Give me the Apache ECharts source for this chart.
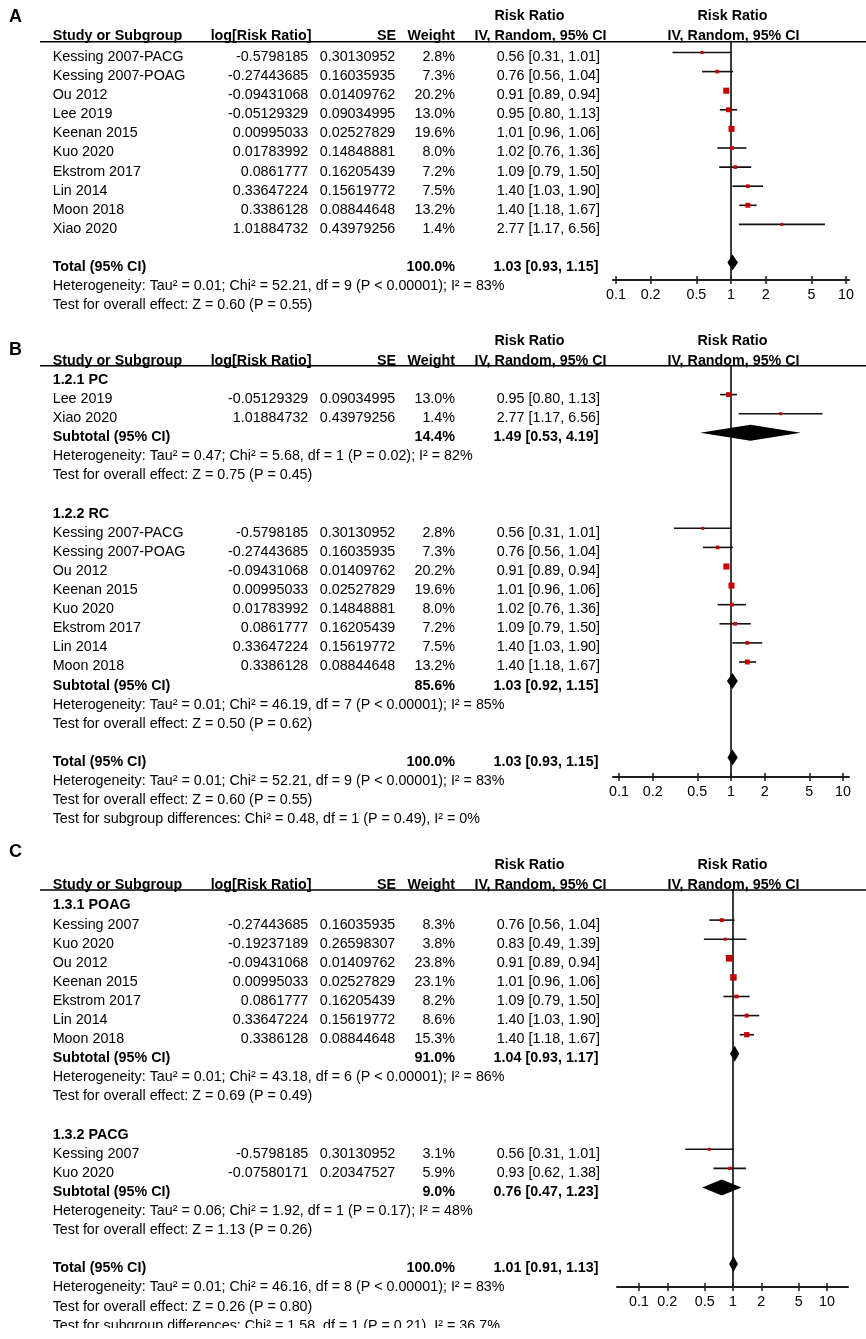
<!DOCTYPE html>
<html><head><meta charset="utf-8">
<script src="https://cdn.jsdelivr.net/npm/echarts@6/dist/echarts.min.js"></script>
<style>html,body{margin:0;padding:0;background:#fff}#c{width:866px;height:1339px}</style>
</head><body><div id="c"></div>
<script>
// ================= DATA =================
const tickValues = [0.1, 0.2, 0.5, 1, 2, 5, 10];

// ---- Panel A ----
const A_names  = ['Kessing 2007-PACG','Kessing 2007-POAG','Ou 2012','Lee 2019','Keenan 2015','Kuo 2020','Ekstrom 2017','Lin 2014','Moon 2018','Xiao 2020'];
const A_logRR  = [-0.5798185,-0.27443685,-0.09431068,-0.05129329,0.00995033,0.01783992,0.0861777,0.33647224,0.3386128,1.01884732];
const A_se     = [0.30130952,0.16035935,0.01409762,0.09034995,0.02527829,0.14848881,0.16205439,0.15619772,0.08844648,0.43979256];
const A_weight = [2.8,7.3,20.2,13.0,19.6,8.0,7.2,7.5,13.2,1.4];
const A_rr     = [0.56,0.76,0.91,0.95,1.01,1.02,1.09,1.40,1.40,2.77];
const A_lo     = [0.31,0.56,0.89,0.80,0.96,0.76,0.79,1.03,1.18,1.17];
const A_hi     = [1.01,1.04,0.94,1.13,1.06,1.36,1.50,1.90,1.67,6.56];
const A_total  = [100.0, 1.03, 0.93, 1.15];
const A_notes  = ['Heterogeneity: Tau² = 0.01; Chi² = 52.21, df = 9 (P < 0.00001); I² = 83%',
                  'Test for overall effect: Z = 0.60 (P = 0.55)'];

// ---- Panel B ----
const B1_label  = '1.2.1 PC';
const B1_names  = ['Lee 2019','Xiao 2020'];
const B1_logRR  = [-0.05129329,1.01884732];
const B1_se     = [0.09034995,0.43979256];
const B1_weight = [13.0,1.4];
const B1_rr     = [0.95,2.77];
const B1_lo     = [0.80,1.17];
const B1_hi     = [1.13,6.56];
const B1_sub    = [14.4,1.49,0.53,4.19];
const B1_notes  = ['Heterogeneity: Tau² = 0.47; Chi² = 5.68, df = 1 (P = 0.02); I² = 82%',
                   'Test for overall effect: Z = 0.75 (P = 0.45)'];
const B2_label  = '1.2.2 RC';
const B2_names  = ['Kessing 2007-PACG','Kessing 2007-POAG','Ou 2012','Keenan 2015','Kuo 2020','Ekstrom 2017','Lin 2014','Moon 2018'];
const B2_logRR  = [-0.5798185,-0.27443685,-0.09431068,0.00995033,0.01783992,0.0861777,0.33647224,0.3386128];
const B2_se     = [0.30130952,0.16035935,0.01409762,0.02527829,0.14848881,0.16205439,0.15619772,0.08844648];
const B2_weight = [2.8,7.3,20.2,19.6,8.0,7.2,7.5,13.2];
const B2_rr     = [0.56,0.76,0.91,1.01,1.02,1.09,1.40,1.40];
const B2_lo     = [0.31,0.56,0.89,0.96,0.76,0.79,1.03,1.18];
const B2_hi     = [1.01,1.04,0.94,1.06,1.36,1.50,1.90,1.67];
const B2_sub    = [85.6,1.03,0.92,1.15];
const B2_notes  = ['Heterogeneity: Tau² = 0.01; Chi² = 46.19, df = 7 (P < 0.00001); I² = 85%',
                   'Test for overall effect: Z = 0.50 (P = 0.62)'];
const B_total   = [100.0,1.03,0.93,1.15];
const B_notes   = ['Heterogeneity: Tau² = 0.01; Chi² = 52.21, df = 9 (P < 0.00001); I² = 83%',
                   'Test for overall effect: Z = 0.60 (P = 0.55)',
                   'Test for subgroup differences: Chi² = 0.48, df = 1 (P = 0.49), I² = 0%'];

// ---- Panel C ----
const C1_label  = '1.3.1 POAG';
const C1_names  = ['Kessing 2007','Kuo 2020','Ou 2012','Keenan 2015','Ekstrom 2017','Lin 2014','Moon 2018'];
const C1_logRR  = [-0.27443685,-0.19237189,-0.09431068,0.00995033,0.0861777,0.33647224,0.3386128];
const C1_se     = [0.16035935,0.26598307,0.01409762,0.02527829,0.16205439,0.15619772,0.08844648];
const C1_weight = [8.3,3.8,23.8,23.1,8.2,8.6,15.3];
const C1_rr     = [0.76,0.83,0.91,1.01,1.09,1.40,1.40];
const C1_lo     = [0.56,0.49,0.89,0.96,0.79,1.03,1.18];
const C1_hi     = [1.04,1.39,0.94,1.06,1.50,1.90,1.67];
const C1_sub    = [91.0,1.04,0.93,1.17];
const C1_notes  = ['Heterogeneity: Tau² = 0.01; Chi² = 43.18, df = 6 (P < 0.00001); I² = 86%',
                   'Test for overall effect: Z = 0.69 (P = 0.49)'];
const C2_label  = '1.3.2 PACG';
const C2_names  = ['Kessing 2007','Kuo 2020'];
const C2_logRR  = [-0.5798185,-0.07580171];
const C2_se     = [0.30130952,0.20347527];
const C2_weight = [3.1,5.9];
const C2_rr     = [0.56,0.93];
const C2_lo     = [0.31,0.62];
const C2_hi     = [1.01,1.38];
const C2_sub    = [9.0,0.76,0.47,1.23];
const C2_notes  = ['Heterogeneity: Tau² = 0.06; Chi² = 1.92, df = 1 (P = 0.17); I² = 48%',
                   'Test for overall effect: Z = 1.13 (P = 0.26)'];
const C_total   = [100.0,1.01,0.91,1.13];
const C_notes   = ['Heterogeneity: Tau² = 0.01; Chi² = 46.16, df = 8 (P < 0.00001); I² = 83%',
                   'Test for overall effect: Z = 0.26 (P = 0.80)',
                   'Test for subgroup differences: Chi² = 1.58, df = 1 (P = 0.21), I² = 36.7%'];

// ================= BUILD ROWS =================
function group(label, names, logRR, se, w, rr, lo, hi, sub, notes) {
  return {label, names, logRR, se, w, rr, lo, hi, sub, notes};
}
function buildRows(groups, total, notes) {
  const rows = [];
  groups.forEach(g => {
    if (g.label) rows.push({kind:'group', text:g.label});
    g.names.forEach((n, i) => rows.push({kind:'study', name:n, logRR:g.logRR[i], se:g.se[i], w:g.w[i], rr:g.rr[i], lo:g.lo[i], hi:g.hi[i]}));
    if (g.sub) {
      rows.push({kind:'sum', name:'Subtotal (95% CI)', w:g.sub[0], rr:g.sub[1], lo:g.sub[2], hi:g.sub[3]});
      g.notes.forEach(t => rows.push({kind:'note', text:t}));
    }
    rows.push({kind:'blank'});
  });
  rows.push({kind:'sum', name:'Total (95% CI)', w:total[0], rr:total[1], lo:total[2], hi:total[3]});
  notes.forEach(t => rows.push({kind:'note', text:t}));
  return rows;
}
const panels = [
  buildRows([group(null, A_names, A_logRR, A_se, A_weight, A_rr, A_lo, A_hi, null, null)], A_total, A_notes),
  buildRows([group(B1_label, B1_names, B1_logRR, B1_se, B1_weight, B1_rr, B1_lo, B1_hi, B1_sub, B1_notes),
             group(B2_label, B2_names, B2_logRR, B2_se, B2_weight, B2_rr, B2_lo, B2_hi, B2_sub, B2_notes)], B_total, B_notes),
  buildRows([group(C1_label, C1_names, C1_logRR, C1_se, C1_weight, C1_rr, C1_lo, C1_hi, C1_sub, C1_notes),
             group(C2_label, C2_names, C2_logRR, C2_se, C2_weight, C2_rr, C2_lo, C2_hi, C2_sub, C2_notes)], C_total, C_notes)
];

// ================= LAYOUT =================
const layouts = [
  {letter:'A', letterY:17,    hdr1Y:16.5,  hdr2Y:36.5,  lineY:41.7,  row0Y:57,    axisY:280,  oneX:731, ppd:115, axL:613, axR:849, clip:null},
  {letter:'B', letterY:350.5, hdr1Y:341.5, hdr2Y:361,   lineY:365.7, row0Y:380,   axisY:777,  oneX:731, ppd:112, axL:613, axR:849, clip:[826, 838]},
  {letter:'C', letterY:852,   hdr1Y:865,   hdr2Y:885,   lineY:890,   row0Y:905.5, axisY:1287, oneX:733, ppd:94,  axL:617, axR:848, clip:[1328, 1339]}
];
const rowH = 19.1, markOff = -4.5;
const FONT = '"Liberation Sans", Arial, Helvetica, sans-serif';
const FS = 14.3;
const X = {name:52.7, logRR:308.3, se:395.3, w:455, ci:600, ciB:598.5,
           hLog:311.5, hSE:396, hW:455, hCI:540.5, hRR:529.5, fRR:732.5, fCI:733.5};

function txt(text, x, y, align, bold, size) {
  return {type:'text', x:x, y:y, z:10, silent:true,
    style:{text:text, textAlign:align, textVerticalAlign:'middle', fill:'#000',
           fontFamily:FONT, fontSize:size||FS, fontWeight:bold?'bold':'normal'}};
}
const L = v => Math.log10(v);
const ciStr = (rr, lo, hi) => rr.toFixed(2) + ' [' + lo.toFixed(2) + ', ' + hi.toFixed(2) + ']';

const grids = [], xAxes = [], yAxes = [], series = [], graphics = [];

panels.forEach((rows, p) => {
  const g = layouts[p];
  // --- text table ---
  graphics.push(txt(g.letter, 9, g.letterY, 'left', true, 18));
  graphics.push(txt('Risk Ratio', X.hRR, g.hdr1Y, 'center', true));
  graphics.push(txt('Risk Ratio', X.fRR, g.hdr1Y, 'center', true));
  graphics.push(txt('Study or Subgroup', X.name, g.hdr2Y, 'left', true));
  graphics.push(txt('log[Risk Ratio]', X.hLog, g.hdr2Y, 'right', true));
  graphics.push(txt('SE', X.hSE, g.hdr2Y, 'right', true));
  graphics.push(txt('Weight', X.hW, g.hdr2Y, 'right', true));
  graphics.push(txt('IV, Random, 95% CI', X.hCI, g.hdr2Y, 'center', true));
  graphics.push(txt('IV, Random, 95% CI', X.fCI, g.hdr2Y, 'center', true));
  graphics.push({type:'line', z:10, silent:true, shape:{x1:40, y1:g.lineY, x2:866, y2:g.lineY},
                 style:{stroke:'#000', lineWidth:1.6}});
  rows.forEach((r, k) => {
    const y = g.row0Y + k * rowH;
    if (r.kind === 'group') graphics.push(txt(r.text, X.name, y, 'left', true));
    else if (r.kind === 'note') graphics.push(txt(r.text, X.name, y, 'left', false));
    else if (r.kind === 'study') {
      graphics.push(txt(r.name, X.name, y, 'left', false));
      graphics.push(txt(String(r.logRR), X.logRR, y, 'right', false));
      graphics.push(txt(String(r.se), X.se, y, 'right', false));
      graphics.push(txt(r.w.toFixed(1) + '%', X.w, y, 'right', false));
      graphics.push(txt(ciStr(r.rr, r.lo, r.hi), X.ci, y, 'right', false));
    } else if (r.kind === 'sum') {
      graphics.push(txt(r.name, X.name, y, 'left', true));
      graphics.push(txt(r.w.toFixed(1) + '%', X.w, y, 'right', true));
      graphics.push(txt(ciStr(r.rr, r.lo, r.hi), X.ciB, y, 'right', true));
    }
  });
  if (g.clip) graphics.push({type:'rect', z:50, silent:true, shape:{x:0, y:g.clip[0], width:610, height:g.clip[1]-g.clip[0]}, style:{fill:'#fff'}});

  // --- forest plot coordinate system ---
  const xmin = (g.axL - g.oneX) / g.ppd, xmax = (g.axR - g.oneX) / g.ppd;
  const mk0 = g.row0Y + markOff;
  grids.push({left:g.axL, top:g.lineY, width:g.axR - g.axL, height:g.axisY - g.lineY, containLabel:false, outerBoundsMode:'none'});
  const tickPos = tickValues.map(L);
  const baseX = {type:'value', gridIndex:p, min:xmin, max:xmax, position:'bottom', splitLine:{show:false}};
  xAxes.push(Object.assign({}, baseX, {
    axisLine:{show:true, onZero:false, lineStyle:{color:'#1e1e1e', width:2}},
    axisTick:{show:true, length:4, customValues:tickPos, lineStyle:{color:'#1e1e1e', width:1.5}},
    axisLabel:{show:true, margin:8, customValues:tickPos, color:'#000', fontSize:FS, fontFamily:FONT,
               formatter: v => String(+Math.pow(10, v).toPrecision(1))}
  }));
  xAxes.push(Object.assign({}, baseX, {
    axisLine:{show:false, onZero:false},
    axisTick:{show:true, inside:true, length:4, customValues:tickPos, lineStyle:{color:'#1e1e1e', width:1.5}},
    axisLabel:{show:false}
  }));
  yAxes.push({type:'value', gridIndex:p, inverse:true,
    min:(g.lineY - mk0) / rowH, max:(g.axisY - mk0) / rowH,
    axisLine:{show:true, onZero:true, onZeroAxisIndex:p*2, lineStyle:{color:'#3c3c3c', width:2}},
    axisTick:{show:false}, axisLabel:{show:false}, splitLine:{show:false}});

  const ciData = [], sqData = [], dmData = [];
  rows.forEach((r, k) => {
    if (r.kind === 'study') { ciData.push([L(r.lo), L(r.hi), k]); sqData.push([L(r.rr), k, r.w]); }
    if (r.kind === 'sum') dmData.push([L(r.lo), L(r.rr), L(r.hi), k]);
  });
  series.push({type:'custom', xAxisIndex:p*2, yAxisIndex:p, z:3, silent:true, data:ciData, encode:{x:[0,1], y:2},
    renderItem:(params, api) => {
      const a = api.coord([api.value(0), api.value(2)]);
      const b = api.coord([api.value(1), api.value(2)]);
      return {type:'line', shape:{x1:a[0], y1:a[1], x2:b[0], y2:b[1]}, style:{stroke:'#111', lineWidth:1.6}};
    }});
  series.push({type:'scatter', xAxisIndex:p*2, yAxisIndex:p, z:4, silent:true, data:sqData, symbol:'rect',
    symbolSize: v => Math.max(3, 1.35 * Math.sqrt(v[2])), itemStyle:{color:'#c80000', opacity:1}});
  series.push({type:'custom', xAxisIndex:p*2, yAxisIndex:p, z:5, silent:true, data:dmData, encode:{x:[0,1,2], y:3},
    renderItem:(params, api) => {
      const a = api.coord([api.value(0), api.value(3)]);
      const c = api.coord([api.value(1), api.value(3)]);
      const b = api.coord([api.value(2), api.value(3)]);
      const h = 8;
      return {type:'polygon', shape:{points:[[a[0], a[1]], [c[0], c[1] - h], [b[0], b[1]], [c[0], c[1] + h]]}, style:{fill:'#000'}};
    }});
});

const chart = echarts.init(document.getElementById('c'), null, {renderer:'canvas', width:866, height:1339});
chart.setOption({
  animation:false,
  backgroundColor:'#fff',
  grid:grids, xAxis:xAxes, yAxis:yAxes, series:series,
  graphic:{elements:graphics}
});
</script>
</body></html>
